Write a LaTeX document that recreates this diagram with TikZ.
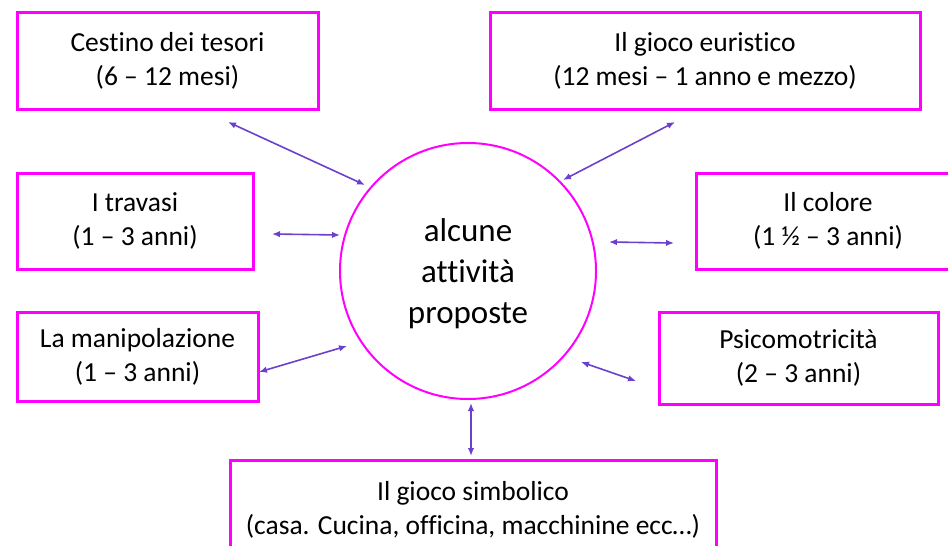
\documentclass[tikz,border=0pt]{standalone}
\usepackage{fontspec}
\setmainfont{Carlito}[Ligatures={NoCommon}]
\usetikzlibrary{arrows.meta}
\definecolor{mag}{HTML}{FF00FF}
\definecolor{arr}{HTML}{6A40CC}
\begin{document}
\begin{tikzpicture}[x=1pt,y=-1pt,
  box/.style={draw=mag,line width=3pt,align=center,inner sep=0pt,
    font=\fontsize{27.5}{34}\selectfont},
  hub/.style={draw=mag,line width=2pt,circle,align=center,inner sep=0pt,
    minimum size=256pt,font=\fontsize{33}{41}\selectfont},
  link/.style={draw=arr,line width=1.6pt,{Latex[length=8pt,width=6.5pt]}-{Latex[length=8pt,width=6.5pt]}}]
\useasboundingbox (0,0) rectangle (948,546);
\node[box,minimum width=301pt,minimum height=97pt] (cestino) at (167.5,60.5) {Cestino dei tesori\\(6 – 12 mesi)};
\node[box,minimum width=430pt,minimum height=97pt] (euristico) at (705,60.5) {Il gioco euristico\\(12 mesi – 1 anno e mezzo)};
\node[box,minimum width=236pt,minimum height=96pt] (travasi) at (135,221) {I travasi\\(1 – 3 anni)};
\node[box,minimum width=264pt,minimum height=96pt] (colore) at (828,221) {Il colore\\(1 ½ – 3 anni)};
\node[box,minimum width=241pt,minimum height=89pt] (manip) at (137.5,356.5) {La manipolazione\\(1 – 3 anni)};
\node[box,minimum width=279pt,minimum height=92pt] (psico) at (798.5,358) {Psicomotricità\\(2 – 3 anni)};
\node[box,minimum width=486pt,minimum height=99pt] (simb) at (473,509.5) {Il gioco simbolico\\(casa. Cucina, officina, macchinine ecc…)};
\node[hub] (hub) at (468,271) {\rule{0pt}{9pt}\\[-21pt]alcune\\attività\\proposte};
\coordinate (a1s) at (228,122); \coordinate (a1e) at (365,185);
\coordinate (a2s) at (675,122); \coordinate (a2e) at (563,180);
\coordinate (a3s) at (272,234); \coordinate (a3e) at (340,235);
\coordinate (a4s) at (609,242); \coordinate (a4e) at (674,243);
\coordinate (a5s) at (259,372); \coordinate (a5e) at (347,346);
\coordinate (a6s) at (581,362); \coordinate (a6e) at (636,381);
\coordinate (a7s) at (471,403); \coordinate (a7e) at (471,456);
\draw[link] (a1s) -- (a1e);
\draw[link] (a2s) -- (a2e);
\draw[link] (a3s) -- (a3e);
\draw[link] (a4s) -- (a4e);
\draw[link] (a5s) -- (a5e);
\draw[link] (a6s) -- (a6e);
\draw[link] (a7s) -- (a7e);
\end{tikzpicture}
\end{document}
